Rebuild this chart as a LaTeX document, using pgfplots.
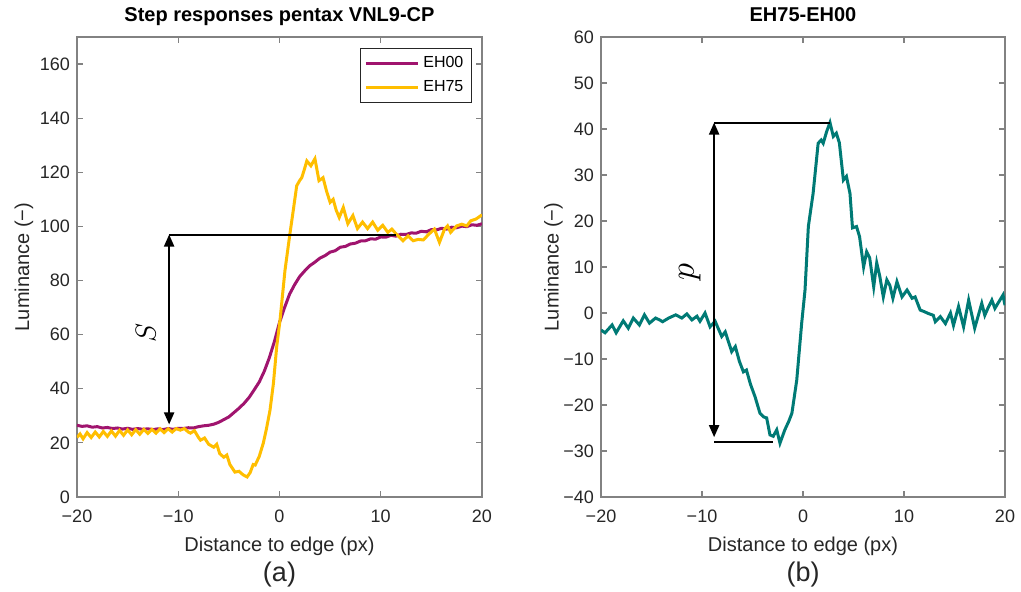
\documentclass[border=0pt]{standalone}
\usepackage{fontspec}
\setmainfont{Liberation Sans}
\usepackage{pgfplots}
\pgfplotsset{compat=1.18}
\usetikzlibrary{arrows.meta}

\definecolor{ehpurple}{RGB}{160,20,110}
\definecolor{ehyellow}{RGB}{255,190,0}
\definecolor{ehteal}{RGB}{0,122,117}
\definecolor{axgray}{RGB}{130,130,130}
\definecolor{txt}{RGB}{38,38,38}

\pgfplotsset{
  matlab/.style={
    scale only axis,
    width=202.5pt, height=230pt,
    axis line style={axgray, line width=0.6pt},
    tick style={axgray, line width=0.6pt},
    tick align=inside,
    major tick length=3pt,
    xmin=-20, xmax=20,
    xtick={-20,-10,0,10,20},
    xticklabels={−20,−10,0,10,20},
    ticklabel style={font=\fontsize{9}{10}\selectfont, text=txt},
    xticklabel style={yshift=-3pt},
    xlabel={Distance to edge (px)},
    ylabel={Luminance (−)},
    label style={font=\fontsize{10}{12}\selectfont, text=txt},
    title style={font=\fontsize{10}{12}\selectfont\bfseries, text=black,
      anchor=base, yshift=1.5pt},
    clip=true,
  },
}

\begin{document}
\begin{tikzpicture}
\begin{axis}[matlab,
    name=A,
    at={(0pt,0pt)},
    ymin=0, ymax=170,
    ytick={0,20,40,60,80,100,120,140,160},
    yticklabels={0,20,40,60,80,100,120,140,160},
    ylabel shift=-3.5pt,
    title={Step responses pentax VNL9-CP},
    legend style={at={(0.975,0.976)}, anchor=north east, draw=txt, line width=0.5pt,
      font=\fontsize{8}{9}\selectfont, row sep=1pt, inner sep=2pt},
    legend cell align=left,
    legend image post style={line width=1.5pt},
    legend image code/.code={\draw[#1] (0pt,0pt) -- (26pt,0pt);},
]
% EH00
\addplot[ehpurple, line width=1.5pt] coordinates {
(-20,26.5)(-19.5,26.1)(-19,26.3)(-18.5,25.8)(-18,26)(-17.5,25.5)(-17,25.7)(-16.5,25.3)
(-16,25.5)(-15.5,25.1)(-15,25.4)(-14.5,25)(-14,25.3)(-13.5,25)(-13,25.2)(-12.5,24.9)
(-12,25.2)(-11.5,24.9)(-11,25.3)(-10.5,25)(-10,25.4)(-9.5,25.3)(-9,25.6)(-8.5,25.5)
(-8,26)(-7.5,26.3)(-7,26.5)(-6.5,26.9)(-6,27.6)(-5.5,28.6)(-5,29.6)(-4.5,31.2)
(-4,32.8)(-3.5,34.6)(-3,36.8)(-2.5,39.6)(-2,42.5)(-1.5,46.5)(-1,51.5)(-0.5,57.5)
(0,64.5)(0.5,70)(1,75)(1.5,78.5)(2,81.5)(2.5,83.6)(3,85.5)(3.5,86.8)
(4,88.3)(4.5,89.2)(5,90.5)(5.5,91)(6,92.3)(6.5,92.6)(7,93.5)(7.5,93.8)
(8,94.6)(8.5,94.7)(9,95.4)(9.5,95.3)(10,96.1)(10.5,96)(11,96.7)(11.5,96.4)
(12,97.1)(12.5,97)(13,97.6)(13.5,97.5)(14,98.2)(14.5,98)(15,98.8)(15.5,98.7)
(16,99.3)(16.5,99)(17,99.7)(17.5,99.5)(18,100.1)(18.5,99.9)(19,100.6)(19.5,100.4)(20,101)
};
% EH75
\addplot[ehyellow, line width=1.5pt] coordinates {
(-20,22)(-19.7,23.3)(-19.4,21.5)(-19.0,23.8)(-18.6,22)(-18.2,24)(-17.8,22.2)(-17.4,24.2)
(-17.0,22.4)(-16.6,24.4)(-16.2,22.5)(-15.8,24.6)(-15.4,22.8)(-15.0,24.8)(-14.6,23)(-14.2,24.9)
(-13.8,23.2)(-13.4,25)(-13.0,23.5)(-12.6,25)(-12.2,23.6)(-11.8,25.2)(-11.4,23.8)(-11.0,25.2)
(-10.6,24)(-10.2,25.3)(-9.8,24.7)(-9.4,25.3)(-9.0,24)(-8.8,23.6)(-8.4,24.5)(-8.0,22)
(-7.8,21)(-7.4,21.8)(-7.0,19.5)(-6.5,18.4)(-6.2,19.5)(-5.9,16)(-5.5,14.7)(-5.2,15.5)
(-4.9,12)(-4.4,9.2)(-4.0,9.5)(-3.6,8.2)(-3.2,7.4)(-2.9,9)(-2.6,12)(-2.4,11.8)
(-2.0,15)(-1.6,19.9)(-1.3,25)(-0.94,32)(-0.6,42)(-0.28,55.4)(0.05,65.3)(0.54,83.7)
(1.03,97.3)(1.4,107)(1.7,115)(2.0,117)(2.2,118)(2.45,121)(2.7,124.2)(3.1,122.4)
(3.5,125)(3.9,116.9)(4.3,118)(4.65,113)(5.0,108.9)(5.3,110)(5.6,106)(5.9,103.3)
(6.3,107)(6.75,101)(7.25,104)(7.7,99.2)(8.2,101.6)(8.7,99.2)(9.2,101.6)(9.7,98.6)
(10.2,100.4)(10.7,97.8)(11.1,99)(11.5,97.3)(12.2,94.7)(12.7,96.5)(13.2,94.7)(13.7,95.2)
(14.2,95)(14.8,97.3)(15.3,99)(15.8,94.1)(16.3,99)(16.6,100.2)(16.9,97.8)(17.5,100.2)
(18.0,100.8)(18.5,100.2)(18.9,102.1)(19.4,102.7)(19.9,104)(20,104.3)
};
\legend{EH00,EH75}
% annotation S
\addplot[black, line width=1pt] coordinates {(-10.9,97)(11.5,97)};
\addplot[black, line width=1pt, {Triangle[length=6pt,width=5pt]}-{Triangle[length=6pt,width=5pt]}]
  coordinates {(-10.9,26.8)(-10.9,97)};
\node[rotate=90, font=\fontsize{13.5}{14}\selectfont] at (axis cs:-13.2,60.5) {$S$};
\end{axis}

\begin{axis}[matlab,
    name=B,
    at={(262pt,0pt)}, width=202pt,
    ymin=-40, ymax=60,
    ytick={-40,-30,-20,-10,0,10,20,30,40,50,60},
    yticklabels={−40,−30,−20,−10,0,10,20,30,40,50,60},
    ylabel shift=-6.5pt,
    title={EH75-EH00},
]
\addplot[ehteal, line width=1.5pt] coordinates {
(-20,-3.7)(-19.6,-4.3)(-18.9,-2.6)(-18.5,-4.3)(-17.8,-1.7)(-17.3,-3.3)(-16.8,-1.1)(-16.2,-2.6)
(-15.7,-0.4)(-15.2,-2.2)(-14.6,-1.1)(-14.2,-1.5)(-13.9,-1.9)(-13.3,-1.1)(-12.6,-0.4)(-12.0,-1.1)
(-11.5,-0.2)(-11.0,-1.5)(-10.5,-0.7)(-10.2,-1.8)(-9.7,0)(-9.2,-3)(-8.7,-1.8)(-8.05,-5.1)
(-7.7,-4.1)(-7.06,-8.4)(-6.7,-7.3)(-6.3,-10.5)(-5.9,-12.8)(-5.6,-12.4)(-5.2,-15.5)(-4.75,-18.2)
(-4.26,-21.8)(-3.9,-22.6)(-3.6,-22.8)(-3.27,-26.5)(-2.95,-26.8)(-2.6,-25.4)(-2.28,-28.3)(-1.8,-25.4)
(-1.4,-23.5)(-1.1,-21.8)(-0.62,-14.6)(-0.13,-2.2)(0.2,5)(0.53,18.8)(1.0,26)(1.5,36.9)
(1.8,37.6)(2.0,36.9)(2.35,39.5)(2.67,41.4)(3.0,38.4)(3.3,39.1)(3.6,37)(4.0,28.9)
(4.3,29.7)(4.65,26)(4.9,18.5)(5.3,18.8)(5.6,16.6)(6.0,10)(6.3,13.3)(6.6,12)
(7.0,5.7)(7.3,10.9)(7.6,8)(7.95,3.5)(8.3,7.2)(8.6,6)(8.9,3.2)(9.3,6.8)
(9.8,3.5)(10.3,5)(10.8,3.2)(11.1,3.5)(11.6,0.65)(12.0,0.3)(12.4,-0.1)(12.9,-0.5)
(13.1,-1.9)(13.6,-0.8)(14.1,-2.3)(14.6,0)(14.9,-2.7)(15.4,1.4)(15.9,-3.0)(16.4,2.8)
(17.0,-3.3)(17.7,2.1)(18.0,-0.5)(18.3,1)(18.7,2.8)(19.0,1.0)(19.3,2.1)(19.8,3.9)(20,1.7)
};
% annotation p
\addplot[black, line width=1pt] coordinates {(-8.8,41.4)(2.67,41.4)};
\addplot[black, line width=1pt] coordinates {(-8.8,-28)(-2.95,-28)};
\addplot[black, line width=1pt, {Triangle[length=6pt,width=5pt]}-{Triangle[length=6pt,width=5pt]}]
  coordinates {(-8.8,-27)(-8.8,41.4)};
\node[rotate=90, font=\fontsize{19}{20}\selectfont] at (axis cs:-11.2,8.9) {$p$};
\end{axis}
\node[font=\fontsize{13.5}{16}\selectfont, text=txt] at ([yshift=-39pt]A.south) {(a)};
\node[font=\fontsize{13.5}{16}\selectfont, text=txt] at ([yshift=-39pt]B.south) {(b)};
\pgfresetboundingbox
\useasboundingbox (-38.5pt,-47.5pt) rectangle (472pt,248.5pt);
\end{tikzpicture}
\end{document}
